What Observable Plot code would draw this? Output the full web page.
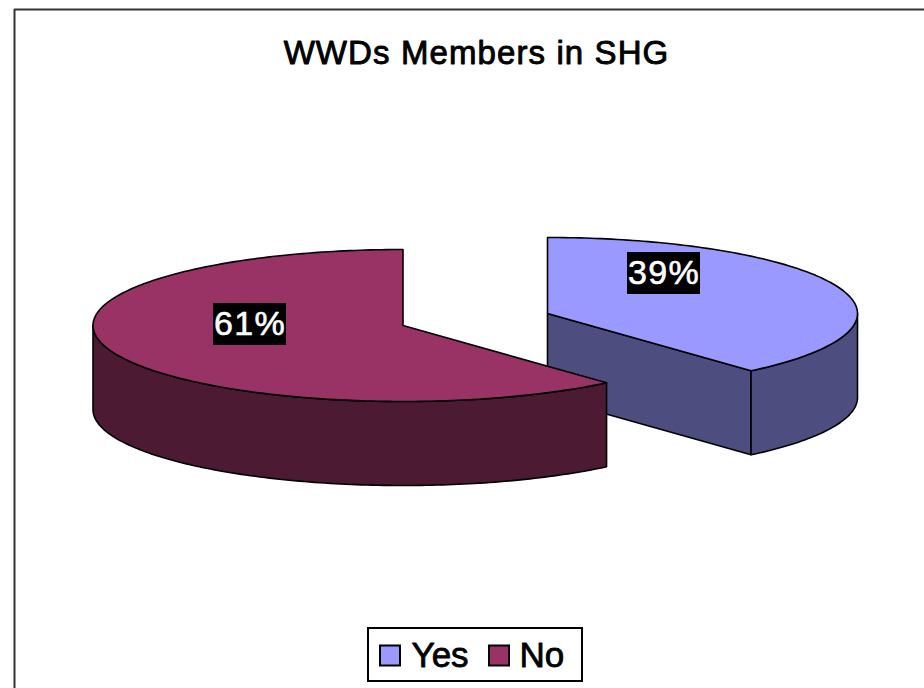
<!DOCTYPE html>
<html>
<head>
<meta charset="utf-8">
<script src="https://cdn.jsdelivr.net/npm/d3@7"></script>
<script src="https://cdn.jsdelivr.net/npm/@observablehq/plot@0.6"></script>
<style>
html,body{margin:0;padding:0;background:#fff;overflow:hidden}
svg{display:block}
.chart-title text{letter-spacing:1.1px}
.slice-label text{letter-spacing:1.4px}
</style>
</head>
<body>
<div id="chart"></div>
<script>
const titleText = "WWDs Members in SHG";
const categories = ["Yes", "No"];
const shares = [0.386, 0.614];
const topColors = ["#9999ff", "#993366"];
const sideColors = ["#4d4d80", "#4d1a33"];

// Layout of the tilted, exploded pie in picture units
const W = 924, H = 688;
const rx = 310, ry = 76, depth = 84;
const centers = [[547, 313], [402.5, 325]];
const labelCenters = [[663.5, 273], [249.5, 324]];
const labelBox = {w: 73, h: 42};
const legend = {x1: 368, x2: 582, y1: 628, y2: 681};
const swatchX = [380, 489], textX = [411, 519], swatchSize = 20;

const step = Math.PI / 180;
let start = 0;
const slices = categories.map((name, i) => {
  const a0 = start * 2 * Math.PI;
  start += shares[i];
  return {name, i, a0, a1: start * 2 * Math.PI, c: centers[i]};
});
const rim = (s, a, dz = 0) => ({
  x: s.c[0] + rx * Math.sin(a),
  y: s.c[1] - ry * Math.cos(a) + dz
});
const arc = (s, a0, a1, dz = 0) => {
  const n = Math.max(2, Math.ceil(Math.abs(a1 - a0) / step));
  return d3.range(n + 1).map(k => rim(s, a0 + (a1 - a0) * k / n, dz));
};
const apex = (s, dz = 0) => ({x: s.c[0], y: s.c[1] + dz});

const polys = [];
const add = (id, fill, pts) => pts.forEach(p => polys.push({...p, id, fill}));
slices.forEach(s => {
  const top = `${s.name}-top`;
  if (s.i === 0) {
    add("Yes-cut", sideColors[0], [apex(s), rim(s, s.a1), rim(s, s.a1, depth), apex(s, depth)]);
    const a0 = Math.PI / 2;
    add("Yes-wall", sideColors[0], [...arc(s, a0, s.a1), ...arc(s, s.a1, a0, depth)]);
  } else {
    const a0 = s.a0, a1 = 1.5 * Math.PI;
    add("No-wall", sideColors[1], [...arc(s, a0, a1), ...arc(s, a1, a0, depth)]);
  }
  add(top, topColors[s.i], [apex(s), ...arc(s, s.a0, s.a1)]);
});

const pieceOrder = ["Yes-cut", "Yes-wall", "Yes-top", "No-wall", "No-top"];
const piece = id => polys.filter(p => p.id === id);
const labelRows = slices.map(s => ({
  text: d3.format(".0%")(shares[s.i]),
  x: labelCenters[s.i][0], y: labelCenters[s.i][1]
}));
const legendRows = categories.map((name, i) => ({
  name, color: topColors[i], sx: swatchX[i], tx: textX[i], y: (legend.y1 + legend.y2) / 2 + 1
}));
const font = '"Liberation Sans", Arial, sans-serif';

const plot = Plot.plot({
  width: W, height: H,
  margin: 0,
  style: {background: "#fff", fontFamily: font},
  x: {domain: [0, W], range: [0, W], axis: null},
  y: {domain: [0, H], range: [0, H], axis: null},
  marks: [
    Plot.line([{x: 14, y: H}, {x: 14, y: 9}, {x: W, y: 9}], {x: "x", y: "y", stroke: "#333", strokeWidth: 2}),
    Plot.text([titleText], {className: "chart-title", x: () => 476, y: () => 53, text: d => d, fontSize: 33, fontWeight: 400, fill: "#000", stroke: "#000", strokeWidth: 0.9}),
    ...pieceOrder.map(id => Plot.line(piece(id), {
      x: "x", y: "y", curve: "linear-closed", fill: d => d.fill, stroke: "#000", strokeWidth: 1.6, strokeLinejoin: "round"
    })),
    Plot.rect(labelRows, {
      x1: d => d.x - labelBox.w / 2, x2: d => d.x + labelBox.w / 2,
      y1: d => d.y - labelBox.h / 2, y2: d => d.y + labelBox.h / 2, fill: "#000"
    }),
    Plot.text(labelRows, {className: "slice-label", x: "x", y: "y", text: "text", fill: "#fff", stroke: "#fff", strokeWidth: 0.6, fontSize: 34}),
    Plot.rect([legend], {x1: "x1", x2: "x2", y1: "y1", y2: "y2", fill: "#fff", stroke: "#000", strokeWidth: 2}),
    Plot.rect(legendRows, {
      x1: "sx", x2: d => d.sx + swatchSize,
      y1: d => d.y - swatchSize / 2, y2: d => d.y + swatchSize / 2,
      fill: "color", stroke: "#000", strokeWidth: 2
    }),
    Plot.text(legendRows, {x: "tx", y: "y", text: "name", textAnchor: "start", fontSize: 35, fill: "#000", stroke: "#000", strokeWidth: 0.8})
  ]
});
document.getElementById("chart").append(plot);
</script>
</body>
</html>
